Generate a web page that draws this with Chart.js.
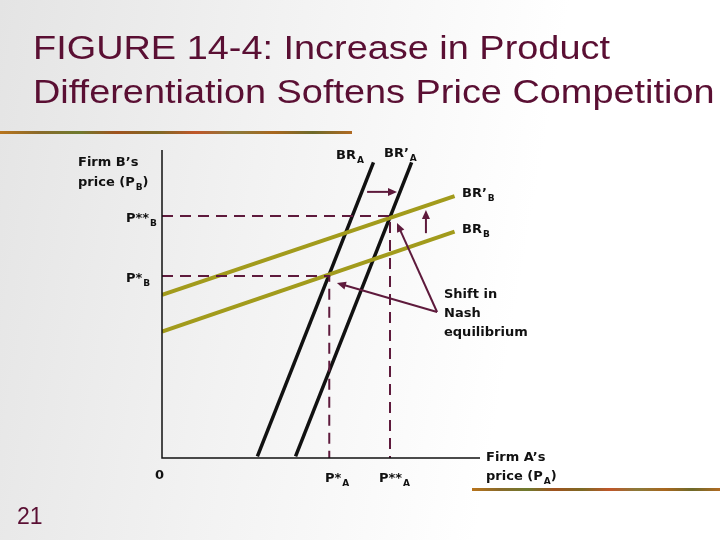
<!DOCTYPE html>
<html>
<head>
<meta charset="utf-8">
<script src="https://cdn.jsdelivr.net/npm/chart.js@4.4.1/dist/chart.umd.min.js"></script>
<style>
  html, body { margin: 0; padding: 0; }
  body {
    width: 720px; height: 540px; overflow: hidden;
    background: linear-gradient(100deg, #e4e4e4 0%, #f2f2f2 35%, #ffffff 70%);
  }
  canvas { display: block; }
</style>
</head>
<body>
<canvas id="chart" width="720" height="540"></canvas>
<script>
// Best response curves, [x, y] end points (x = P_A, y = P_B)
const brA = [[30, 0.5], [66.5, 96]];
const brA2 = [[42, 0.5], [78.5, 96]];
const brB = [[0, 41], [92, 73.5]];
const brB2 = [[0, 53], [92, 85]];

// Equilibrium prices
const pStarA = 52.6;
const pStarStarA = 71.7;
const pStarB = 59.1;
const pStarStarB = 78.6;

// Arrows, [from, to] in data units
const shiftArrows = [
    [[64.5, 86.4], [73.9, 86.4]],
    [[83, 73], [83, 80.5]],
    [[86.5, 47.4], [55, 56.8]],
    [[86.5, 47.4], [73.9, 76.3]]
];

const titleLines = ['FIGURE 14-4: Increase in Product', 'Differentiation Softens Price Competition'];

const toPts = arr => arr.map(p => ({ x: p[0], y: p[1] }));

const BLACK = '#111111';
const OLIVE = '#a29b1c';
const MAROON = '#5e1a3c';
const TITLE = '#5a0f33';

function dashed(points) {
    return {
        data: toPts(points),
        showLine: true,
        borderColor: MAROON,
        borderWidth: 2,
        borderDash: [11, 7],
        pointRadius: 0
    };
}

function curve(points, color, width) {
    return {
        data: toPts(points),
        showLine: true,
        borderColor: color,
        borderWidth: width,
        pointRadius: 0,
        borderCapStyle: 'butt'
    };
}

// text helper with optional subscript
function label(ctx, x, y, main, sub, size, rest) {
    ctx.font = 'bold ' + size + 'px "DejaVu Sans", Verdana, sans-serif';
    ctx.fillText(main, x, y);
    let w = ctx.measureText(main).width;
    if (sub) {
        ctx.font = 'bold ' + Math.round(size * 0.72) + 'px "DejaVu Sans", Verdana, sans-serif';
        ctx.fillText(sub, x + w + 1, y + 4);
        w += ctx.measureText(sub).width + 1;
    }
    if (rest) {
        ctx.font = 'bold ' + size + 'px "DejaVu Sans", Verdana, sans-serif';
        ctx.fillText(rest, x + w, y);
    }
}

function decoBar(ctx, x, y, w, h) {
    const g = ctx.createLinearGradient(x, 0, x + w, 0);
    const stops = ['#b8741c', '#8a6a2a', '#6f7a2e', '#a0521e', '#7c6a24', '#c0562a', '#8a7a3a', '#a8661e', '#6e6a2a', '#b06a22'];
    stops.forEach((c, i) => g.addColorStop(i / (stops.length - 1), c));
    ctx.fillStyle = g;
    ctx.fillRect(x, y, w, h);
}

const decorPlugin = {
    id: 'decor',
    afterDraw(chart) {
        const ctx = chart.ctx;
        const xs = chart.scales.x, ys = chart.scales.y;
        const area = chart.chartArea;
        ctx.save();

        // title (slightly wide, like the slide)
        ctx.fillStyle = TITLE;
        ctx.textBaseline = 'alphabetic';
        ctx.font = '33px "Liberation Sans", Arial, sans-serif';
        [59, 103].forEach((base, i) => {
            ctx.save();
            ctx.translate(33, base);
            ctx.scale(1.148, 1);
            ctx.fillText(titleLines[i], 0, 0);
            ctx.restore();
        });
        ctx.font = '23px "Liberation Sans", Arial, sans-serif';
        ctx.fillText('21', 17, 524);

        decoBar(ctx, 0, 131, 352, 3);
        decoBar(ctx, 472, 488, 248, 3);

        // axes
        ctx.strokeStyle = BLACK;
        ctx.lineWidth = 1.5;
        ctx.beginPath();
        ctx.moveTo(area.left, area.top);
        ctx.lineTo(area.left, area.bottom);
        ctx.lineTo(area.right, area.bottom);
        ctx.stroke();

        // arrows
        ctx.strokeStyle = MAROON;
        ctx.fillStyle = MAROON;
        ctx.lineWidth = 2;
        shiftArrows.forEach(a => {
            const x1 = xs.getPixelForValue(a[0][0]), y1 = ys.getPixelForValue(a[0][1]);
            const x2 = xs.getPixelForValue(a[1][0]), y2 = ys.getPixelForValue(a[1][1]);
            const ang = Math.atan2(y2 - y1, x2 - x1);
            const hl = 9, hw = 4;
            ctx.beginPath();
            ctx.moveTo(x1, y1);
            ctx.lineTo(x2 - Math.cos(ang) * hl * 0.8, y2 - Math.sin(ang) * hl * 0.8);
            ctx.stroke();
            ctx.beginPath();
            ctx.moveTo(x2, y2);
            ctx.lineTo(x2 - Math.cos(ang) * hl - Math.sin(ang) * hw, y2 - Math.sin(ang) * hl + Math.cos(ang) * hw);
            ctx.lineTo(x2 - Math.cos(ang) * hl + Math.sin(ang) * hw, y2 - Math.sin(ang) * hl - Math.cos(ang) * hw);
            ctx.closePath();
            ctx.fill();
        });

        // labels
        ctx.fillStyle = BLACK;
        label(ctx, 78, 166, "Firm B’s", null, 13);
        label(ctx, 78, 186, 'price (P', 'B', 13, ')');
        label(ctx, 126, 222, 'P**', 'B', 13);
        label(ctx, 126, 282, 'P*', 'B', 13);
        label(ctx, 336, 159, 'BR', 'A', 13);
        label(ctx, 384, 157, 'BR’', 'A', 13);
        label(ctx, 462, 197, 'BR’', 'B', 13);
        label(ctx, 462, 233, 'BR', 'B', 13);
        label(ctx, 444, 298, 'Shift in', null, 13);
        label(ctx, 444, 317, 'Nash', null, 13);
        label(ctx, 444, 336, 'equilibrium', null, 13);
        label(ctx, 155, 479, '0', null, 13);
        label(ctx, 325, 482, 'P*', 'A', 13);
        label(ctx, 379, 482, 'P**', 'A', 13);
        label(ctx, 486, 461, "Firm A’s", null, 13);
        label(ctx, 486, 480, 'price (P', 'A', 13, ')');

        ctx.restore();
    }
};

new Chart(document.getElementById('chart'), {
    type: 'scatter',
    data: {
        datasets: [
            dashed([[0, pStarB], [pStarA, pStarB], [pStarA, 0]]),
            dashed([[0, pStarStarB], [pStarStarA, pStarStarB], [pStarStarA, 0]]),
            curve(brB, OLIVE, 4),
            curve(brB2, OLIVE, 4),
            curve(brA, BLACK, 3.5),
            curve(brA2, BLACK, 3.5)
        ]
    },
    options: {
        responsive: false,
        animation: false,
        devicePixelRatio: 1,
        layout: { padding: { left: 162, right: 240, top: 150, bottom: 82 } },
        plugins: {
            legend: { display: false },
            tooltip: { enabled: false }
        },
        scales: {
            x: { type: 'linear', min: 0, max: 100, display: false },
            y: { type: 'linear', min: 0, max: 100, display: false }
        }
    },
    plugins: [decorPlugin]
});
</script>
</body>
</html>
